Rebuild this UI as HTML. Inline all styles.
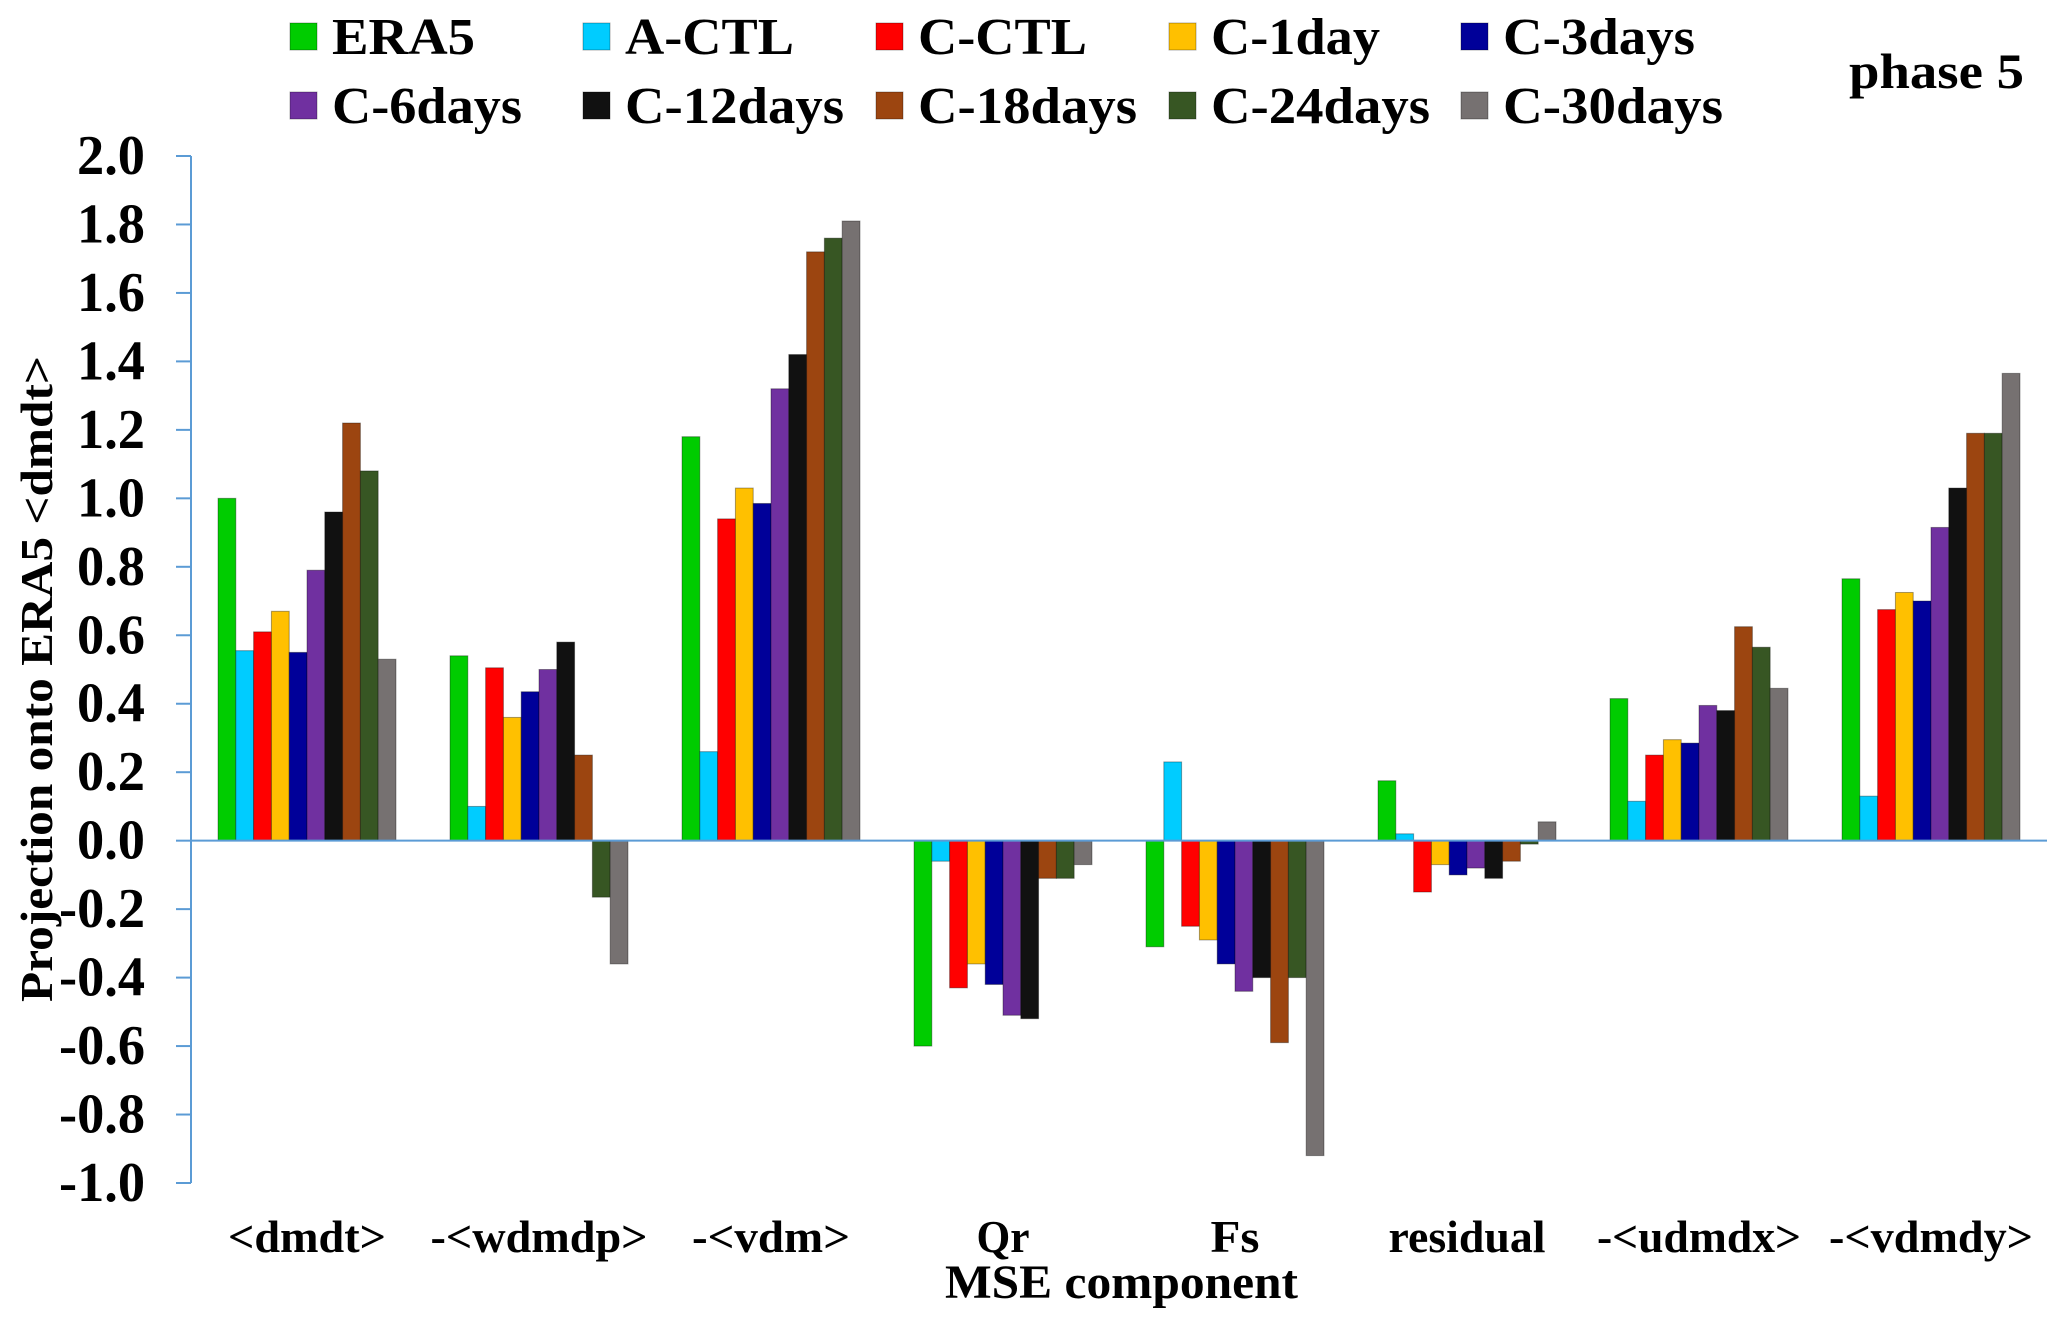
<!DOCTYPE html>
<html><head><meta charset="utf-8"><style>
html,body{margin:0;padding:0;background:#fff;}
svg{display:block;}
text{font-family:"Liberation Serif","Times New Roman",serif;font-weight:bold;fill:#000;}
</style></head>
<body>
<svg id="chart" width="2067" height="1331" viewBox="0 0 2067 1331" xmlns="http://www.w3.org/2000/svg">
<g id="legend"></g>
<g id="plot"></g>
<text x="1849" y="88" font-size="50" textLength="175" lengthAdjust="spacingAndGlyphs">phase 5</text>
</svg>
<script>
const categories = ["<dmdt>","-<wdmdp>","-<vdm>","Qr","Fs","residual","-<udmdx>","-<vdmdy>"];
const categoryWidths = [158,217,158,53,49,157,204,204];
const seriesNames = ["ERA5","A-CTL","C-CTL","C-1day","C-3days","C-6days","C-12days","C-18days","C-24days","C-30days"];
const legendWidths = [143,169,169,169,192,190,219,219,219,220];
const seriesColors = ["#00cc00","#00ccff","#ff0000","#ffc000","#000099","#7030a0","#111111","#9c4510","#375623","#767171"];
const valERA5   = [1.00, 0.54, 1.18, -0.60, -0.31, 0.175, 0.415, 0.765];
const valACTL   = [0.555, 0.10, 0.26, -0.06, 0.23, 0.02, 0.115, 0.13];
const valCCTL   = [0.61, 0.505, 0.94, -0.43, -0.25, -0.15, 0.25, 0.675];
const valC1     = [0.67, 0.36, 1.03, -0.36, -0.29, -0.07, 0.295, 0.725];
const valC3     = [0.55, 0.435, 0.985, -0.42, -0.36, -0.10, 0.285, 0.70];
const valC6     = [0.79, 0.50, 1.32, -0.51, -0.44, -0.08, 0.395, 0.915];
const valC12    = [0.96, 0.58, 1.42, -0.52, -0.40, -0.11, 0.38, 1.03];
const valC18    = [1.22, 0.25, 1.72, -0.11, -0.59, -0.06, 0.625, 1.19];
const valC24    = [1.08, -0.165, 1.76, -0.11, -0.40, -0.01, 0.565, 1.19];
const valC30    = [0.53, -0.36, 1.81, -0.07, -0.92, 0.055, 0.445, 1.365];
const seriesValues = [valERA5,valACTL,valCCTL,valC1,valC3,valC6,valC12,valC18,valC24,valC30];
const yTicks = [2.0,1.8,1.6,1.4,1.2,1.0,0.8,0.6,0.4,0.2,0.0,-0.2,-0.4,-0.6,-0.8,-1.0];

const NS="http://www.w3.org/2000/svg";
const X0=191, X1=2047, Y_TOP=156, Y_BOT=1183, YMAX=2.0, YMIN=-1.0;
const bandW=(X1-X0)/categories.length;
function yScale(v){return Y_TOP+(YMAX-v)/(YMAX-YMIN)*(Y_BOT-Y_TOP);}
function xBand(i){return X0+i*bandW;}
function mk(tag,parent){const e=document.createElementNS(NS,tag);parent.appendChild(e);return e;}
const plot=document.getElementById('plot');
const legend=document.getElementById('legend');
const axisColor="#5b9bd5";

const barW=bandW*0.767/seriesNames.length;
const gOff=(bandW-barW*seriesNames.length)/2;
seriesValues.forEach((vals,s)=>{
  vals.forEach((v,i)=>{
    const r=mk('rect',plot);
    const x=xBand(i)+gOff+s*barW;
    const y0=yScale(0), y1=yScale(v);
    r.setAttribute('x',x);r.setAttribute('width',barW);
    r.setAttribute('y',Math.min(y0,y1));r.setAttribute('height',Math.abs(y1-y0));
    r.setAttribute('fill',seriesColors[s]);
    r.setAttribute('stroke','rgba(0,0,0,0.35)');r.setAttribute('stroke-width','1');
    
    
  });
});

const ax=mk('line',plot);
ax.setAttribute('x1',X0);ax.setAttribute('x2',X0);ax.setAttribute('y1',Y_TOP);ax.setAttribute('y2',Y_BOT);
ax.setAttribute('stroke',axisColor);ax.setAttribute('stroke-width','2');


const zl=mk('line',plot);
zl.setAttribute('x1',X0);zl.setAttribute('x2',X1);zl.setAttribute('y1',yScale(0));zl.setAttribute('y2',yScale(0));
zl.setAttribute('stroke',axisColor);zl.setAttribute('stroke-width','2');


yTicks.forEach(t=>{
  const y=yScale(t);
  const tk=mk('line',plot);
  tk.setAttribute('x1',176);tk.setAttribute('x2',X0);tk.setAttribute('y1',y);tk.setAttribute('y2',y);
  tk.setAttribute('stroke',axisColor);tk.setAttribute('stroke-width','2');
  
  
  const tx=mk('text',plot);
  const w=t<0?86:68;
  tx.setAttribute('x',145-w);tx.setAttribute('y',y+18);
  tx.setAttribute('font-size','56');
  tx.setAttribute('textLength',w);tx.setAttribute('lengthAdjust','spacingAndGlyphs');
  tx.textContent=t.toFixed(1);
  
  
});
categories.forEach((c,i)=>{
  const tx=mk('text',plot);
  const w=categoryWidths[i];
  tx.setAttribute('x',xBand(i)+bandW/2-w/2);tx.setAttribute('y',1252);
  tx.setAttribute('font-size','46');
  tx.setAttribute('textLength',w);tx.setAttribute('lengthAdjust','spacingAndGlyphs');
  tx.textContent=c;
  
  
});
const xt=mk('text',plot);
xt.setAttribute('x',945);xt.setAttribute('y',1298);
xt.setAttribute('font-size','48');
xt.setAttribute('textLength','353');xt.setAttribute('lengthAdjust','spacingAndGlyphs');
xt.textContent='MSE component';


const yt=mk('text',plot);
yt.setAttribute('transform','translate(52,679) rotate(-90)');
yt.setAttribute('text-anchor','middle');yt.setAttribute('font-size','46');
yt.setAttribute('textLength','646');yt.setAttribute('lengthAdjust','spacingAndGlyphs');
yt.textContent='Projection onto ERA5 <dmdt>';



const legX=[290,583,876,1169,1461];
seriesNames.forEach((n,s)=>{
  const col=s%5,row=Math.floor(s/5);
  const x=legX[col], yb=row?123:54;
  const g=mk('g',legend);
  
  
  const r=mk('rect',g);
  r.setAttribute('x',x);r.setAttribute('y',yb-31);r.setAttribute('width',27);r.setAttribute('height',27);
  r.setAttribute('fill',seriesColors[s]);
  r.setAttribute('stroke','rgba(0,0,0,0.3)');r.setAttribute('stroke-width','1');
  
  
  const t=mk('text',g);
  t.setAttribute('x',x+42);t.setAttribute('y',yb);
  t.setAttribute('font-size','52');
  t.setAttribute('textLength',legendWidths[s]);t.setAttribute('lengthAdjust','spacingAndGlyphs');
  t.textContent=n;
  
  
});
</script>
</body></html>
